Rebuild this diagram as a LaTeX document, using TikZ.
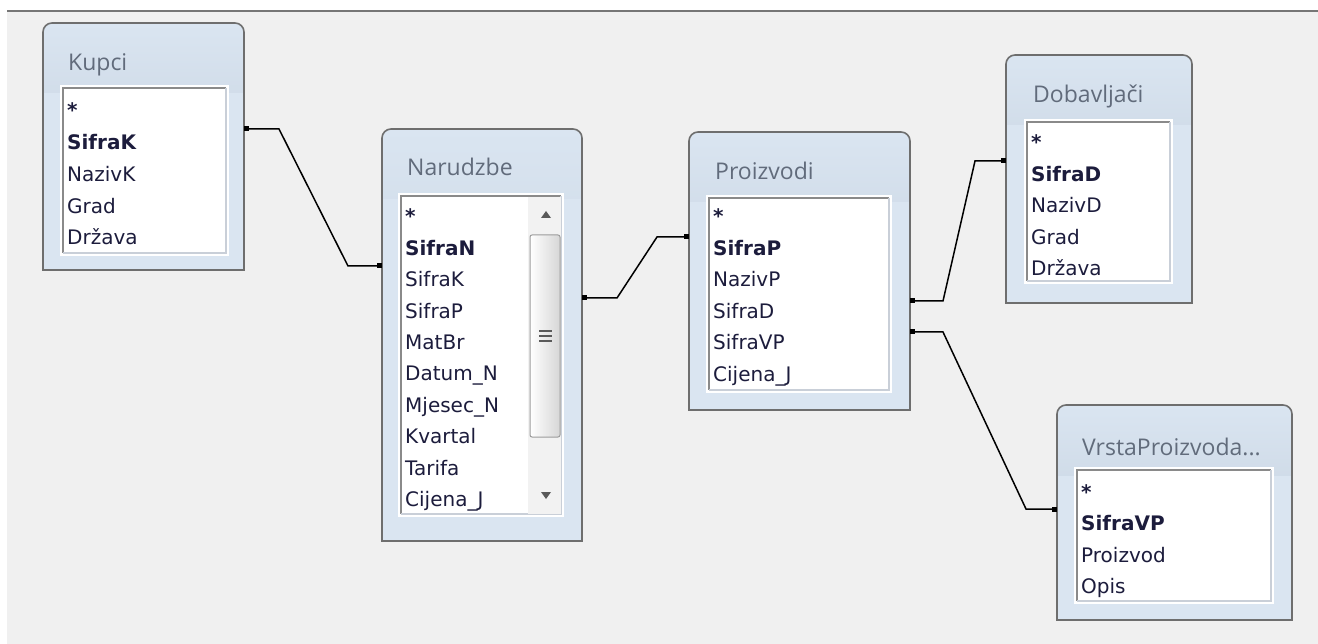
\documentclass[tikz,border=0pt]{standalone}
\usepackage{fontspec}
\setmainfont{DejaVu Sans}
\newfontfamily\titlefont{Open Sans}
\usetikzlibrary{arrows.meta,calc}
\definecolor{canvas}{HTML}{F0F0F0}
\definecolor{topline}{HTML}{767676}
\definecolor{framegray}{HTML}{6E6E6E}
\definecolor{boxblue}{HTML}{DAE5F1}
\definecolor{headblue}{HTML}{BCC9D7}
\definecolor{titlegray}{HTML}{616B7B}
\definecolor{fieldink}{HTML}{1C1C3C}
\definecolor{sunkdark}{HTML}{8A8A8A}
\definecolor{sunklight}{HTML}{C9CFD8}
\definecolor{trackgray}{HTML}{F2F2F2}
\definecolor{thumbedge}{HTML}{9C9C9C}
\definecolor{arrowgray}{HTML}{5A5A5A}
\begin{document}
\begin{tikzpicture}[x=1pt,y=-1pt,
    frame/.style={draw=framegray,line width=1.6pt,fill=boxblue,
      path picture={\shade[top color=boxblue,bottom color=headblue]
        (path picture bounding box.north west) rectangle
        ([yshift=-70pt]path picture bounding box.north east);}},
    list/.style={fill=white,draw=white,line width=2pt},
    sunk/.style={draw=sunkdark,line width=1.2pt},
    sunkhi/.style={draw=sunklight,line width=1.2pt},
    title/.style={anchor=base west,inner sep=0pt,text=titlegray,
      font=\titlefont\fontsize{23}{23}\selectfont},
    field/.style={anchor=base west,inner sep=0pt,text=fieldink,
      font=\fontsize{20}{20}\selectfont},
    rel/.style={line width=1.5pt,
      {Square[length=5pt,width=5pt]}-{Square[length=5pt,width=5pt]}}]
\useasboundingbox (0,0) rectangle (1318,644);
\fill[white] (0,0) rectangle (1318,644);
\fill[canvas] (7,11) rectangle (1318,644);
\draw[topline,line width=2pt] (7,11) -- (1318,11);

% Kupci
\draw[frame] (43,270) [rounded corners=9pt] -- (43,23) -- (244,23) [sharp corners] -- (244,270) -- cycle;
\draw[list] (61,86) rectangle (228,255);
\draw[sunk] (63,253) |- (226,88);
\draw[sunkhi] (63,253) -| (226,88);
\node[title] (kupci) at (68,71) {Kupci};
\foreach \f [count=\i from 0] in {\textbf{*},\textbf{SifraK},NazivK,Grad,Država}
  \node[field] (kupci-\i) at (67,118+31.7*\i) {\f};

% Narudzbe
\draw[frame] (382,541) [rounded corners=9pt] -- (382,129) -- (582,129) [sharp corners] -- (582,541) -- cycle;
\draw[list] (399,194) rectangle (563,516);
\draw[sunk] (401,514) |- (561,196);
\draw[sunkhi] (401,514) -| (561,196);
\fill[trackgray] (528,197) rectangle (560.5,513.5);
\fill[arrowgray] (546,211) -- (551,218) -- (541,218) -- cycle;
\draw[thumbedge,line width=1pt,rounded corners=2pt,left color=white,right color=black!16] (530,235) rectangle (560,437);
\foreach \g in {331,336,341}
  \draw[arrowgray,line width=1.2pt] (539,\g) -- (552,\g);
\fill[arrowgray] (546,499) -- (551,492) -- (541,492) -- cycle;
\node[title] (narudzbe) at (407,176) {Narudzbe};
\foreach \f [count=\i from 0] in {\textbf{*},\textbf{SifraN},SifraK,SifraP,MatBr,Datum\_N,Mjesec\_N,Kvartal,Tarifa,Cijena\_J}
  \node[field] (narudzbe-\i) at (405,224+31.4*\i) {\f};

% Proizvodi
\draw[frame] (689,410) [rounded corners=9pt] -- (689,132) -- (910,132) [sharp corners] -- (910,410) -- cycle;
\draw[list] (707,196) rectangle (891,392);
\draw[sunk] (709,390) |- (889,198);
\draw[sunkhi] (709,390) -| (889,198);
\node[title] (proizvodi) at (715,180) {Proizvodi};
\foreach \f [count=\i from 0] in {\textbf{*},\textbf{SifraP},NazivP,SifraD,SifraVP,Cijena\_J}
  \node[field] (proizvodi-\i) at (713,224+31.5*\i) {\f};

% Dobavljaci
\draw[frame] (1006,303) [rounded corners=9pt] -- (1006,55) -- (1192,55) [sharp corners] -- (1192,303) -- cycle;
\draw[list] (1025,120) rectangle (1172,283);
\draw[sunk] (1027,281) |- (1170,122);
\draw[sunkhi] (1027,281) -| (1170,122);
\node[title] (dobavljaci) at (1033,103) {Dobavljači};
\foreach \f [count=\i from 0] in {\textbf{*},\textbf{SifraD},NazivD,Grad,Država}
  \node[field] (dobavljaci-\i) at (1031,150+31.5*\i) {\f};

% VrstaProizvoda
\draw[frame] (1057,620) [rounded corners=9pt] -- (1057,405) -- (1292,405) [sharp corners] -- (1292,620) -- cycle;
\draw[list] (1075,468) rectangle (1273,603);
\draw[sunk] (1077,601) |- (1271,470);
\draw[sunkhi] (1077,601) -| (1271,470);
\node[title] (vrsta) at (1082,455) {VrstaProizvoda...};
\foreach \f [count=\i from 0] in {\textbf{*},\textbf{SifraVP},Proizvod,Opis}
  \node[field] (vrsta-\i) at (1081,499+31.5*\i) {\f};

% relations
\coordinate (kupciR) at (244,129);
\coordinate (narudzbeL) at (382,266);
\coordinate (narudzbeR) at (582,298);
\coordinate (proizvodiL) at (689,237);
\coordinate (proizvodiR1) at (910,301);
\coordinate (proizvodiR2) at (910,332);
\coordinate (dobavljaciL) at (1006,161);
\coordinate (vrstaL) at (1057,509);
\draw[rel] (kupciR) -- ++(35,0) -- ($(narudzbeL)+(-34,0)$) -- (narudzbeL);
\draw[rel] (narudzbeR) -- ++(35,0) -- ($(proizvodiL)+(-32,0)$) -- (proizvodiL);
\draw[rel] (proizvodiR1) -- ++(33,0) -- ($(dobavljaciL)+(-31,0)$) -- (dobavljaciL);
\draw[rel] (proizvodiR2) -- ++(33,0) -- ($(vrstaL)+(-31,0)$) -- (vrstaL);
\end{tikzpicture}
\end{document}
